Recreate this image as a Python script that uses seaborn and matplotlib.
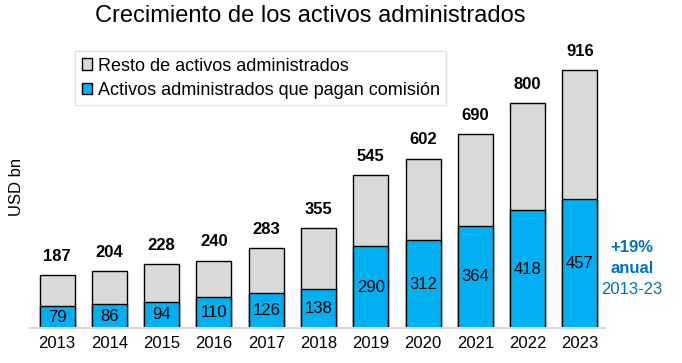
import numpy as np
import pandas as pd
import seaborn as sns
from matplotlib import pyplot as plt

# data (USD bn)
years = ["2013", "2014", "2015", "2016", "2017", "2018", "2019", "2020", "2021", "2022", "2023"]
total = [187, 204, 228, 240, 283, 355, 545, 602, 690, 800, 916]
fee_paying = [79, 86, 94, 110, 126, 138, 290, 312, 364, 418, 457]

BLUE = "#00B0F0"
GREY = "#D9D9D9"
TXT_BLUE = "#0070C0"

df = pd.DataFrame({"year": years, "total": total, "fee": fee_paying})

sns.set_style("white")
plt.rcParams["font.family"] = ["Liberation Sans", "DejaVu Sans"]
plt.rcParams["text.color"] = "black"
plt.rcParams["axes.labelcolor"] = "black"
plt.rcParams["xtick.color"] = "black"

fig = plt.figure(figsize=(6.82, 3.63), dpi=100)
ax = fig.add_axes([0.044, 0.096, 0.843, 0.776])

# grey full bar underneath, blue fee-paying part on top of it
sns.barplot(data=df, x="year", y="total", color=GREY, edgecolor="black", linewidth=1,
            width=0.67, saturation=1, ax=ax, label="Resto de activos administrados")
sns.barplot(data=df, x="year", y="fee", color=BLUE, edgecolor="black", linewidth=1,
            width=0.67, saturation=1, ax=ax, label="Activos administrados que pagan comisión")

for i, (t, f) in enumerate(zip(total, fee_paying)):
    ax.annotate(str(t), (i, t), xytext=(0, 8), textcoords="offset points",
                ha="center", va="bottom", fontsize=12, fontweight="bold")
    ax.text(i, f / 2, str(f), ha="center", va="center", fontsize=12)

ax.set_xlim(-0.52, 10.48)
ax.set_ylim(0, 1000)
ax.set_yticks([])
ax.set_xlabel("")
ax.set_ylabel("USD bn", fontsize=12, labelpad=4)
ax.tick_params(axis="x", length=0, labelsize=12, pad=6)
for side in ["top", "right", "left"]:
    ax.spines[side].set_visible(False)
ax.spines["bottom"].set_color(GREY)
ax.spines["bottom"].set_linewidth(1.5)

handles, labels = ax.get_legend_handles_labels()
leg = ax.legend(handles, labels, loc="upper left", bbox_to_anchor=(0.063, 1.015),
                fontsize=13, frameon=True, fancybox=False, handlelength=0.6,
                handleheight=0.6, handletextpad=0.3, borderpad=0.35, labelspacing=0.4)
leg.get_frame().set_edgecolor(GREY)
leg.get_frame().set_linewidth(1)

fig.text(0.927, 0.318, "+19%", color=TXT_BLUE, fontsize=12, fontweight="bold",
         ha="center", va="center")
fig.text(0.927, 0.260, "anual", color=TXT_BLUE, fontsize=12, fontweight="bold",
         ha="center", va="center")
fig.text(0.927, 0.202, "2013-23", color=TXT_BLUE, fontsize=12, ha="center", va="center")

fig.suptitle("Crecimiento de los activos administrados", fontsize=17, x=0.455, y=0.985, va="top")

fig.savefig("out.png", dpi=100)
